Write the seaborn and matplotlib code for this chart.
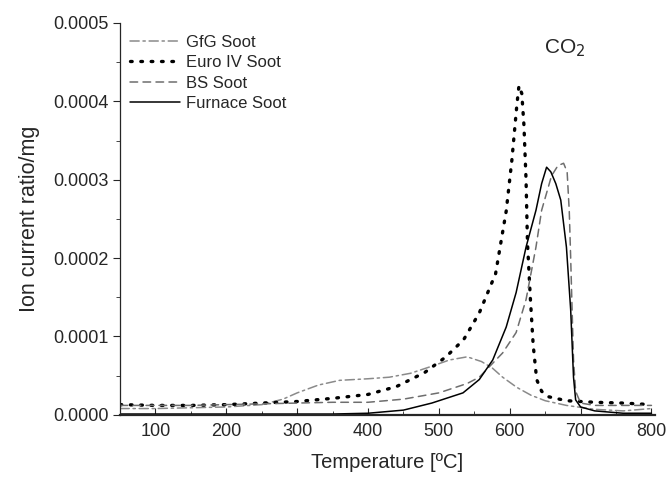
import numpy as np
import pandas as pd
import matplotlib
matplotlib.use("Agg")
import matplotlib.pyplot as plt
from matplotlib.ticker import MultipleLocator, FormatStrFormatter
import seaborn as sns

# ── Data (temperature in °C, ion current ratio/mg) ──
gfg_t = [50, 100, 150, 200, 250, 280, 300, 330, 360, 400, 430, 460, 490, 515,
         540, 560, 575, 590, 610, 630, 650, 680, 720, 760, 800]
gfg_v = [0.000008, 0.000008, 0.000009, 0.00001, 0.000013, 0.00002, 0.000028,
         0.000038, 0.000044, 0.000046, 0.000048, 0.000053, 0.000062, 0.00007,
         0.000074, 0.000068, 0.00006, 0.000048, 0.000035, 0.000025, 0.000018,
         0.000012, 0.000007, 0.000005, 0.000008]

euro_t = [50, 100, 150, 200, 250, 300, 350, 400, 440, 480, 510, 535, 557, 580,
          595, 603, 610, 613, 617, 620, 623, 625, 629, 633, 638, 645, 655, 680,
          720, 760, 800]
euro_v = [0.000013, 0.000012, 0.000012, 0.000013, 0.000015, 0.000017, 0.000021,
          0.000026, 0.000036, 0.000054, 0.000074, 0.000096, 0.00013, 0.00018,
          0.00026, 0.000325, 0.000395, 0.00042, 0.00041, 0.00037, 0.0003,
          0.00022, 0.00015, 0.00009, 0.000045, 0.00003, 0.000023, 0.000018,
          0.000016, 0.000015, 0.000013]

bs_t = [50, 100, 150, 200, 250, 300, 350, 400, 450, 500, 540, 557, 590, 609,
        623, 637, 645, 659, 668, 676, 681, 684, 686, 688, 690, 693, 700, 720,
        760, 800]
bs_v = [0.000012, 0.000012, 0.000012, 0.000013, 0.000014, 0.000015, 0.000016,
        0.000016, 0.00002, 0.000028, 0.00004, 0.000048, 0.000079, 0.000105,
        0.000147, 0.000214, 0.000261, 0.000305, 0.000318, 0.000321, 0.00031,
        0.00026, 0.0002, 0.000134, 0.00007, 0.00003, 0.000015, 0.000012,
        0.000012, 0.000012]

furn_t = [50, 150, 250, 350, 400, 450, 490, 534, 557, 576, 595, 609, 623, 637,
          645, 652, 658, 665, 672, 680, 686, 690, 693, 700, 720, 760, 800]
furn_v = [0.000001, 0.000001, 0.000001, 0.000001, 0.000002, 0.000006, 0.000015,
          0.000028, 0.000045, 0.00007, 0.000112, 0.000156, 0.000214, 0.000261,
          0.000295, 0.000316, 0.00031, 0.000295, 0.000274, 0.000214, 0.000134,
          0.000048, 0.000019, 0.00001, 0.000005, 0.000002, 0.000002]

series = [
    ("GfG Soot", gfg_t, gfg_v, "#8a8a8a", (0, (6, 2.5, 1.5, 2.5)), 1.1),
    ("Euro IV Soot", euro_t, euro_v, "black", (0, (0.5, 2.6)), 2.4),
    ("BS Soot", bs_t, bs_v, "#6e6e6e", (0, (5, 3.5)), 1.1),
    ("Furnace Soot", furn_t, furn_v, "black", "-", 1.1),
]

sns.set_style("ticks")
plt.rcParams["font.family"] = ["Liberation Sans", "DejaVu Sans"]

fig = plt.figure(figsize=(6.67, 4.79), dpi=100)
ax = fig.add_axes([0.18, 0.134, 0.802, 0.818])

for name, t, v, color, ls, lw in series:
    df = pd.DataFrame({"T": t, "v": v})
    sns.lineplot(data=df, x="T", y="v", ax=ax, color=color, linestyle=ls,
                 linewidth=lw, label=name, dash_capstyle="round")

ax.set_xlim(50, 805)
ax.set_ylim(0, 0.0005)
ax.xaxis.set_major_locator(MultipleLocator(100))
ax.xaxis.set_minor_locator(MultipleLocator(50))
ax.yaxis.set_major_locator(MultipleLocator(0.0001))
ax.yaxis.set_minor_locator(MultipleLocator(0.00005))
ax.yaxis.set_major_formatter(FormatStrFormatter("%.4f"))
ax.set_xticks([100, 200, 300, 400, 500, 600, 700, 800])
ax.tick_params(axis="x", which="both", direction="in", labelsize=13, pad=6)
ax.tick_params(axis="x", which="major", length=5)
ax.tick_params(axis="x", which="minor", length=3)
ax.tick_params(axis="y", which="both", direction="out", labelsize=13, pad=3)
ax.tick_params(axis="y", which="major", length=5)
ax.tick_params(axis="y", which="minor", length=3)
ax.spines["bottom"].set_linewidth(1.6)
ax.spines["left"].set_linewidth(0.9)
sns.despine(ax=ax)

ax.set_xlabel("Temperature [ºC]", fontsize=14.5, labelpad=9)
ax.set_ylabel("Ion current ratio/mg", fontsize=15.5, labelpad=10)

ax.text(677, 0.000468, "CO$_2$", fontsize=15, ha="center", va="center")

ax.legend(loc="upper left", bbox_to_anchor=(0.0, 0.995), frameon=False,
          fontsize=12, handlelength=3.0, handletextpad=0.35, labelspacing=0.32,
          borderaxespad=0.2)

fig.savefig("out.png", dpi=100)
